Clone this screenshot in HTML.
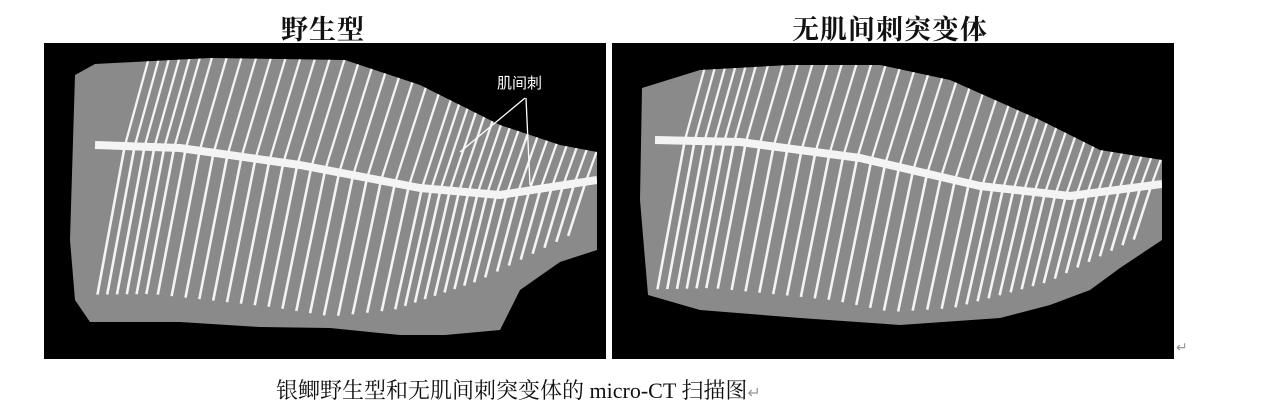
<!DOCTYPE html>
<html><head><meta charset="utf-8"><style>
html,body{margin:0;padding:0;background:#fff;width:1280px;height:414px;overflow:hidden}
.t{position:absolute;font-family:"Liberation Serif","Noto Serif CJK SC",serif;color:#111}
</style></head><body>
<div class="t" style="left:281px;top:8px;font-size:27px;font-weight:bold;letter-spacing:1px">野生型</div>
<div class="t" style="left:792px;top:8px;font-size:27px;font-weight:bold;letter-spacing:1px">无肌间刺突变体</div>
<div class="t" style="left:276px;top:374px;font-size:22px">银鲫野生型和无肌间刺突变体的 micro-CT 扫描图<span style="color:#999;font-size:16px">↵</span></div>
<div class="t" style="left:1176px;top:340px;font-size:14px;color:#999">↵</div>
<svg id="s" width="1280" height="414" style="position:absolute;left:0;top:0">
<defs>
<clipPath id="c1"><polygon points="75,75 95,64 210,58 345,60 420,85 500,125 560,145 597,152 597,250 560,262 520,290 500,330 445,335 400,335 330,328 260,327 180,322 90,322 75,300 70,240"/></clipPath>
<clipPath id="c2"><polygon points="642,88 700,70 790,65 880,65 950,80 1040,120 1100,150 1162,160 1162,240 1120,268 1090,290 1050,305 1000,318 900,325 800,318 700,310 648,295 640,200"/></clipPath>
</defs>
<rect x="44" y="43" width="562" height="316" fill="#000"/>
<rect x="612" y="43" width="562" height="316" fill="#000"/>
<polygon fill="#8a8a8a" points="75,75 95,64 210,58 345,60 420,85 500,125 560,145 597,152 597,250 560,262 520,290 500,330 445,335 400,335 330,328 260,327 180,322 90,322 75,300 70,240"/>
<polygon fill="#8a8a8a" points="642,88 700,70 790,65 880,65 950,80 1040,120 1100,150 1162,160 1162,240 1120,268 1090,290 1050,305 1000,318 900,325 800,318 700,310 648,295 640,200"/>
<g id="g1" stroke="#f4f4f4" fill="none" clip-path="url(#c1)"></g>
<g id="g2" stroke="#f4f4f4" fill="none" clip-path="url(#c2)"></g>
<text x="497" y="88" fill="#fff" font-size="15" font-family="Liberation Sans,Noto Sans CJK SC,sans-serif">肌间刺</text>
<line x1="525" y1="98" x2="460" y2="152" stroke="#fff" stroke-width="1.3"/>
<line x1="526" y1="98" x2="530" y2="185" stroke="#fff" stroke-width="1.3"/>
</svg>
<script>
function spine(g,pts,ribs,bot){
 var ns="http://www.w3.org/2000/svg";
 var p=document.createElementNS(ns,"polyline");
 p.setAttribute("points",pts.map(function(a){return a.join(",")}).join(" "));
 p.setAttribute("stroke-width","8");p.setAttribute("stroke-linejoin","round");g.appendChild(p);
 function at(t){var n=pts.length-1,f=t*n,i=Math.min(Math.floor(f),n-1),u=f-i;
  return [pts[i][0]+(pts[i+1][0]-pts[i][0])*u,pts[i][1]+(pts[i+1][1]-pts[i][1])*u];}
 for(var k=0;k<ribs;k++){var t=0.07+k/ribs*0.93,q=at(t);
  var L=document.createElementNS(ns,"line");
  L.setAttribute("x1",q[0]);L.setAttribute("y1",q[1]);
  L.setAttribute("x2",q[0]+40+15*t);L.setAttribute("y2",q[1]-150);
  L.setAttribute("stroke-width","2.3");g.appendChild(L);
  var B=document.createElementNS(ns,"line");
  B.setAttribute("x1",q[0]);B.setAttribute("y1",q[1]);
  var d=bot(t);
  B.setAttribute("x2",q[0]-d*0.18-8*t);B.setAttribute("y2",q[1]+d);
  B.setAttribute("stroke-width","2.6");g.appendChild(B);}
}
function bl(t){return t<0.5?150-20*t:140-180*(t-0.5);}
spine(document.getElementById("g1"),[[95,145],[180,148],[300,165],[420,188],[500,195],[597,180]],40,bl);
spine(document.getElementById("g2"),[[655,140],[740,142],[860,158],[980,186],[1070,196],[1162,184]],40,bl);
</script>
</body></html>
